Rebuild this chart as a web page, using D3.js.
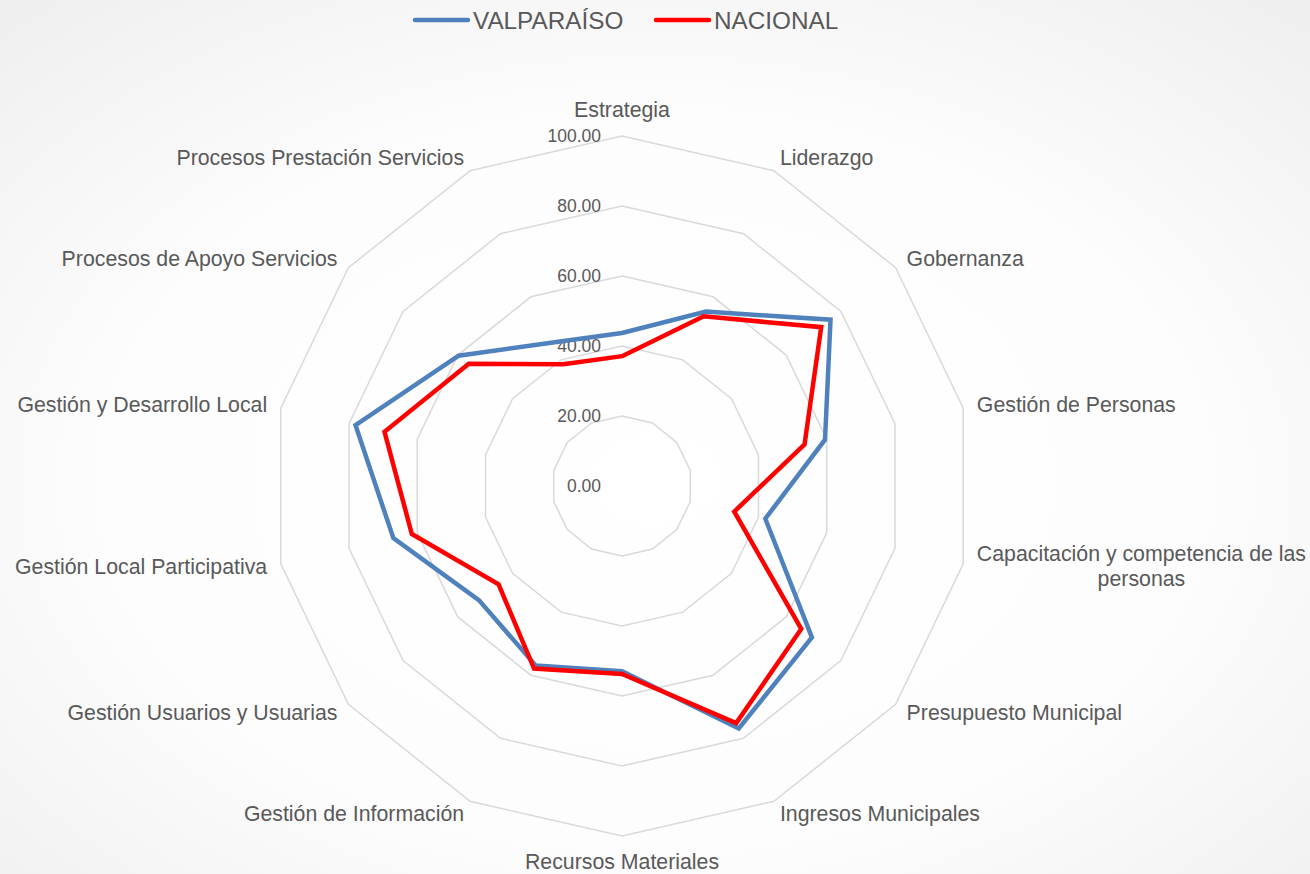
<!DOCTYPE html>
<html>
<head>
<meta charset="utf-8">
<script src="https://cdn.jsdelivr.net/npm/d3@7"></script>
<style>
  body { margin: 0; background: #fff; }
  svg text { font-family: "Liberation Sans", Arial, sans-serif; fill: #595959; }
</style>
</head>
<body>
<div id="chart"></div>
<script>
var labels = ["Estrategia", "Liderazgo", "Gobernanza", "Gestión de Personas",
  "Capacitación y competencia de las\npersonas", "Presupuesto Municipal", "Ingresos Municipales",
  "Recursos Materiales", "Gestión de Información", "Gestión Usuarios y Usuarias",
  "Gestión Local Participativa", "Gestión y Desarrollo Local", "Procesos de Apoyo Servicios",
  "Procesos Prestación Servicios"];
var valparaiso = [43.7, 55.3, 76.2, 59.5, 42.0, 69.4, 76.9, 52.9, 56.9, 52.3, 67.0, 78.1, 59.7, 45.5];
var nacional = [37.1, 53.8, 72.8, 53.5, 32.9, 65.5, 75.2, 53.7, 57.9, 45.1, 61.6, 69.6, 56.0, 38.6];
var ticks = [0, 20, 40, 60, 80, 100];
var seriesNames = ["VALPARAÍSO", "NACIONAL"];
var seriesColors = ["#4f81bd", "#ff0000"];

var width = 1310, height = 874;
var cx = 622, cy = 486, R = 350;

var svg = d3.select("#chart").append("svg")
  .attr("width", width)
  .attr("height", height);

// background
var defs = svg.append("defs");
var grad = defs.append("radialGradient")
  .attr("id", "bg")
  .attr("cx", "50%").attr("cy", "55%").attr("r", "75%");
grad.append("stop").attr("offset", "0%").attr("stop-color", "#ffffff");
grad.append("stop").attr("offset", "55%").attr("stop-color", "#fdfdfd");
grad.append("stop").attr("offset", "100%").attr("stop-color", "#eeeeee");
svg.append("rect").attr("width", width).attr("height", height).attr("fill", "url(#bg)");

var r = d3.scaleLinear().domain([0, 100]).range([0, R]);
var angle = d3.scaleLinear().domain([0, labels.length]).range([0, 2 * Math.PI]);

var g = svg.append("g").attr("transform", "translate(" + cx + "," + cy + ")");

// grid polygons
var gridLine = d3.lineRadial()
  .angle(function(d, i) { return angle(i); })
  .radius(function(d) { return r(d); })
  .curve(d3.curveLinearClosed);

g.selectAll(".grid")
  .data(ticks.filter(function(t) { return t > 0; }))
  .enter().append("path")
  .attr("class", "grid")
  .attr("d", function(t) { return gridLine(labels.map(function() { return t; })); })
  .attr("fill", "none")
  .attr("stroke", "#d9d9d9")
  .attr("stroke-width", 1.5);

// tick labels
g.selectAll(".tick")
  .data(ticks)
  .enter().append("text")
  .attr("class", "tick")
  .attr("x", -21)
  .attr("y", function(t) { return -r(t); })
  .attr("text-anchor", "end")
  .attr("dominant-baseline", "central")
  .style("font-size", "17.5px")
  .text(function(t) { return t.toFixed(2); });

// series
var seriesLine = d3.lineRadial()
  .angle(function(d, i) { return angle(i); })
  .radius(function(d) { return r(d); })
  .curve(d3.curveLinearClosed);

[valparaiso, nacional].forEach(function(vals, k) {
  g.append("path")
    .attr("d", seriesLine(vals))
    .attr("fill", "none")
    .attr("stroke", seriesColors[k])
    .attr("stroke-width", 4.5)
    .attr("stroke-linejoin", "miter");
});

// axis labels
labels.forEach(function(lab, i) {
  var a = angle(i);
  var s = Math.sin(a), c = Math.cos(a);
  var x = (R + 14) * s, y = -(R + 14) * c;
  var anchor = "middle";
  if (Math.abs(s) < 0.01) { y += c > 0 ? -12 : 12; }
  else anchor = s > 0 ? "start" : "end";
  var lines = lab.split("\n");
  var t = g.append("text")
    .attr("text-anchor", anchor)
    .attr("dominant-baseline", "central")
    .style("font-size", "21.3px");
  if (lines.length === 1) {
    t.attr("x", x).attr("y", y).text(lab);
  } else {
    var first = t.append("tspan").attr("x", x).attr("y", y - 12.5).text(lines[0]);
    var w = first.node().getComputedTextLength();
    t.append("tspan").attr("x", x + w / 2).attr("y", y + 12.5)
      .attr("text-anchor", "middle").text(lines[1]);
  }
});

// legend
var legend = svg.append("g");
var lx = [415, 656];
seriesNames.forEach(function(name, k) {
  legend.append("line")
    .attr("x1", lx[k]).attr("x2", lx[k] + 53)
    .attr("y1", 20).attr("y2", 20)
    .attr("stroke", seriesColors[k])
    .attr("stroke-width", 4.5)
    .attr("stroke-linecap", "round");
  legend.append("text")
    .attr("x", lx[k] + 58).attr("y", 20)
    .attr("dominant-baseline", "central")
    .style("font-size", "24.3px")
    .text(name);
});
</script>
</body>
</html>
